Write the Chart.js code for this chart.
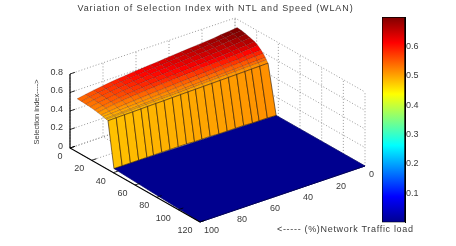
<!DOCTYPE html>
<html>
<head>
<meta charset="utf-8">
<script src="https://cdn.jsdelivr.net/npm/chart.js@4/dist/chart.umd.min.js"></script>
<style>
  html, body { margin: 0; padding: 0; background: #fff; }
  #wrap { position: relative; width: 456px; height: 246px; overflow: hidden; }
  canvas { position: absolute; top: 0; filter: blur(0.35px); }
  #surfaceChart { left: 0; }
  #colorbarChart { left: 372px; }
</style>
</head>
<body>
<div id="wrap">
  <canvas id="surfaceChart" width="456" height="246"></canvas>
  <canvas id="colorbarChart" width="84" height="246"></canvas>
</div>
<script>
// Axis ticks
const speedTicks = [0, 20, 40, 60, 80, 100, 120];
const ntlTicks = [0, 20, 40, 60, 80, 100];
const indexTicks = [0, 0.2, 0.4, 0.6, 0.8];
const colorbarTicks = [0.1, 0.2, 0.3, 0.4, 0.5, 0.6];

// Surface grid
const ntlColumns = [97, 92, 87, 82, 77, 73, 68, 63, 58, 53, 48.5, 44, 39, 34, 29, 24, 19, 14, 10, 5, 0];
const speedRows = [2, 6, 10, 14, 18, 21, 24, 26, 28, 29, 30.5];
const index02 = [.527, .544, .559, .572, .584, .593, .602, .611, .618, .625, .632, .640, .647, .654, .661, .668, .675, .682, .692, .701, .710];
const index06 = [.525, .542, .557, .570, .581, .590, .599, .608, .615, .622, .629, .636, .643, .650, .657, .664, .671, .678, .687, .696, .705];
const index10 = [.522, .539, .553, .566, .577, .585, .594, .603, .609, .616, .623, .629, .636, .642, .649, .656, .662, .669, .678, .686, .695];
const index14 = [.518, .534, .548, .560, .570, .579, .587, .595, .601, .607, .613, .619, .625, .631, .637, .644, .650, .656, .664, .672, .680];
const index18 = [.512, .528, .541, .553, .563, .570, .578, .586, .591, .597, .603, .608, .614, .619, .625, .631, .636, .642, .650, .657, .665];
const index21 = [.505, .520, .533, .544, .553, .560, .567, .574, .579, .584, .589, .594, .599, .604, .609, .614, .619, .624, .631, .638, .645];
const index24 = [.498, .508, .517, .525, .531, .537, .543, .549, .554, .559, .564, .568, .573, .578, .583, .588, .593, .597, .603, .609, .615];
const index26 = [.493, .498, .503, .508, .512, .517, .522, .527, .532, .537, .542, .546, .551, .556, .561, .566, .571, .575, .580, .585, .590];
const index28 = [.487, .491, .494, .498, .502, .505, .509, .513, .516, .520, .524, .527, .531, .534, .538, .542, .545, .549, .553, .556, .560];
const index29 = [.484, .487, .490, .492, .495, .498, .501, .504, .506, .509, .512, .515, .518, .520, .523, .526, .529, .532, .534, .537, .540];
const index30 = [.480, .482, .484, .485, .487, .489, .491, .492, .494, .496, .498, .499, .501, .503, .505, .506, .508, .510, .512, .513, .515];
const surfaceRows = [index02, index06, index10, index14, index18, index21, index24, index26, index28, index29, index30];

// Where the cliff lands on the floor, then the flat floor itself
const cliffFootSpeed = [36, 36, 36, 36, 36, 36, 36, 36, 36, 36, 36.5, 36.5, 36.5, 37, 37, 37, 37, 37.5, 37.5, 37.5, 38];
const floorSpeed = [36, 120, 120, 38];
const floorNtl = [97, 100, 0, 0];
const colorbarMax = 0.7;

// 3D view: screen position of a (speed, NTL, index) point
function viewX(s, n) {
  return 70 + s / 120 * 130 + (100 - n) / 100 * 165;
}
function viewY(s, n, z) {
  return 148 + s / 120 * 74 - (100 - n) / 100 * 56 - z / 0.8 * 74;
}
function pt(s, n, z) {
  return { x: viewX(s, n), y: viewY(s, n, z) };
}

// jet colormap over the colorbar range
const jetStops = [
  [0, [0, 0, 143]], [0.125, [0, 0, 255]], [0.375, [0, 255, 255]],
  [0.625, [255, 255, 0]], [0.875, [255, 0, 0]], [1, [128, 0, 0]]
];
function jet(v) {
  const t = Math.min(1, Math.max(0, v / colorbarMax));
  for (let i = 1; i < jetStops.length; i++) {
    if (t <= jetStops[i][0]) {
      const a = jetStops[i - 1], b = jetStops[i];
      const f = (t - a[0]) / (b[0] - a[0]);
      const c = a[1].map((x, k) => Math.round(x + (b[1][k] - x) * f));
      return `rgb(${c[0]}, ${c[1]}, ${c[2]})`;
    }
  }
  return 'rgb(128, 0, 0)';
}

const datasets = [];

function addLine(points, color, dash, width) {
  datasets.push({
    data: points,
    borderColor: color,
    borderWidth: width,
    borderDash: dash,
    fill: false,
    tension: 0,
    pointRadius: 0,
    showLine: true
  });
}

function addPatch(points, value, edge) {
  datasets.push({
    data: points.concat([points[0]]),
    backgroundColor: jet(value),
    borderColor: edge,
    borderWidth: 0.7,
    fill: 'shape',
    tension: 0,
    pointRadius: 0,
    showLine: true
  });
}

// Dotted box grid on the floor and the two back walls
const gridColor = '#808080';
const gridDash = [1, 2];
speedTicks.forEach((s) => {
  addLine([pt(s, 100, 0), pt(s, 0, 0), pt(s, 0, 0.8)], gridColor, gridDash, 0.8);
});
ntlTicks.forEach((n) => {
  addLine([pt(120, n, 0), pt(0, n, 0), pt(0, n, 0.8)], gridColor, gridDash, 0.8);
});
indexTicks.forEach((z) => {
  addLine([pt(0, 100, z), pt(0, 0, z), pt(120, 0, z)], gridColor, gridDash, 0.8);
});

// Floor
addPatch(floorSpeed.map((s, i) => pt(s, floorNtl[i], 0)), 0, 'rgb(0, 0, 110)');

// Top of the surface, back row first; a cell takes the colour of its front corner
for (let r = 0; r < speedRows.length - 1; r++) {
  for (let c = ntlColumns.length - 2; c >= 0; c--) {
    addPatch([
      pt(speedRows[r], ntlColumns[c], surfaceRows[r][c]),
      pt(speedRows[r], ntlColumns[c + 1], surfaceRows[r][c + 1]),
      pt(speedRows[r + 1], ntlColumns[c + 1], surfaceRows[r + 1][c + 1]),
      pt(speedRows[r + 1], ntlColumns[c], surfaceRows[r + 1][c])
    ], surfaceRows[r + 1][c + 1], 'rgba(60, 10, 0, 0.3)');
  }
}

// Cliff down to the floor, coloured by its top edge
const lastRow = speedRows.length - 1;
for (let c = 0; c < ntlColumns.length - 1; c++) {
  addPatch([
    pt(speedRows[lastRow], ntlColumns[c], surfaceRows[lastRow][c]),
    pt(speedRows[lastRow], ntlColumns[c + 1], surfaceRows[lastRow][c + 1]),
    pt(cliffFootSpeed[c + 1], ntlColumns[c + 1], 0),
    pt(cliffFootSpeed[c], ntlColumns[c], 0)
  ], surfaceRows[lastRow][c], 'rgba(40, 20, 0, 0.85)');
}

// Solid axes and tick marks
addLine([pt(0, 100, 0.8), pt(0, 100, 0), pt(120, 100, 0)], '#000', [], 1.2);
addLine([pt(120, 100, 0), pt(120, 0, 0)], 'rgb(0, 0, 90)', [], 1);
speedTicks.forEach((s) => addLine([pt(s, 100, 0), pt(s, 97, 0)], '#000', [], 0.8));
indexTicks.forEach((z) => addLine([pt(0, 100, z), pt(0, 97, z)], '#000', [], 0.8));

// Chart.js paints the first dataset on top, so number them back to front
datasets.forEach((d, i) => { d.order = datasets.length - i; });

const textColor = '#3a3a3a';
const labelFont = '9px "Liberation Sans", Arial, sans-serif';

function drawText(ctx, text, x, y, align, font, spacing) {
  ctx.font = font;
  ctx.textAlign = align;
  ctx.letterSpacing = spacing || '0px';
  ctx.fillText(text, x, y);
}

// Tick labels and titles sit around the projected box
const boxLabels = {
  id: 'boxLabels',
  afterDraw(chart) {
    const ctx = chart.ctx;
    ctx.save();
    ctx.fillStyle = textColor;
    ctx.textBaseline = 'middle';
    drawText(ctx, 'Variation of Selection Index with NTL and Speed (WLAN)', 215.5, 9, 'center', labelFont, '0.9px');
    indexTicks.forEach((z) => {
      drawText(ctx, String(z), viewX(0, 100) - 7, viewY(0, 100, z) - 1.5, 'right', labelFont);
    });
    speedTicks.forEach((s) => {
      drawText(ctx, String(s), viewX(s, 100) - 7.5, viewY(s, 100, 0) + 8.5, 'right', labelFont);
    });
    ntlTicks.forEach((n) => {
      drawText(ctx, String(n), viewX(120, n) + 4, viewY(120, n, 0) + 9, 'left', labelFont);
    });
    drawText(ctx, '<----- (%)Network Traffic load', 277, 230, 'left', labelFont, '0.68px');
    ctx.translate(37, 112);
    ctx.rotate(-Math.PI / 2);
    drawText(ctx, 'Selection index---->', 0, 0, 'center', '7.5px "Liberation Sans", Arial, sans-serif');
    ctx.restore();
  }
};

new Chart(document.getElementById('surfaceChart').getContext('2d'), {
  type: 'scatter',
  data: { datasets: datasets },
  options: {
    responsive: false,
    animation: false,
    events: [],
    layout: { padding: 0 },
    scales: {
      x: { type: 'linear', display: false, min: 0, max: 456 },
      y: { type: 'linear', display: false, min: 0, max: 246, reverse: true }
    },
    plugins: {
      legend: { display: false },
      tooltip: { enabled: false }
    }
  },
  plugins: [boxLabels]
});

// Colorbar
new Chart(document.getElementById('colorbarChart').getContext('2d'), {
  type: 'bar',
  data: {
    labels: [''],
    datasets: [{
      data: [[0, colorbarMax]],
      barPercentage: 1,
      categoryPercentage: 1,
      borderColor: '#000',
      borderWidth: 1,
      borderSkipped: false,
      backgroundColor(context) {
        const area = context.chart.chartArea;
        if (!area) return '#000';
        const g = context.chart.ctx.createLinearGradient(0, area.bottom, 0, area.top);
        jetStops.forEach((stop) => g.addColorStop(stop[0], jet(stop[0] * colorbarMax)));
        return g;
      }
    }]
  },
  options: {
    responsive: false,
    animation: false,
    events: [],
    layout: { padding: { left: 10, top: 17, bottom: 23.6, right: 0 } },
    scales: {
      x: { display: false },
      y: {
        position: 'right',
        min: 0,
        max: colorbarMax,
        afterFit(scale) { scale.width = 51; },
        afterBuildTicks(scale) { scale.ticks = colorbarTicks.map((v) => ({ value: v })); },
        border: { color: '#000' },
        grid: { drawOnChartArea: false, drawTicks: false },
        ticks: {
          padding: 1,
          color: textColor,
          font: { family: '"Liberation Sans", Arial, sans-serif', size: 9 },
          callback: (v) => v.toFixed(1)
        }
      }
    },
    plugins: {
      legend: { display: false },
      tooltip: { enabled: false }
    }
  }
});
</script>
</body>
</html>
